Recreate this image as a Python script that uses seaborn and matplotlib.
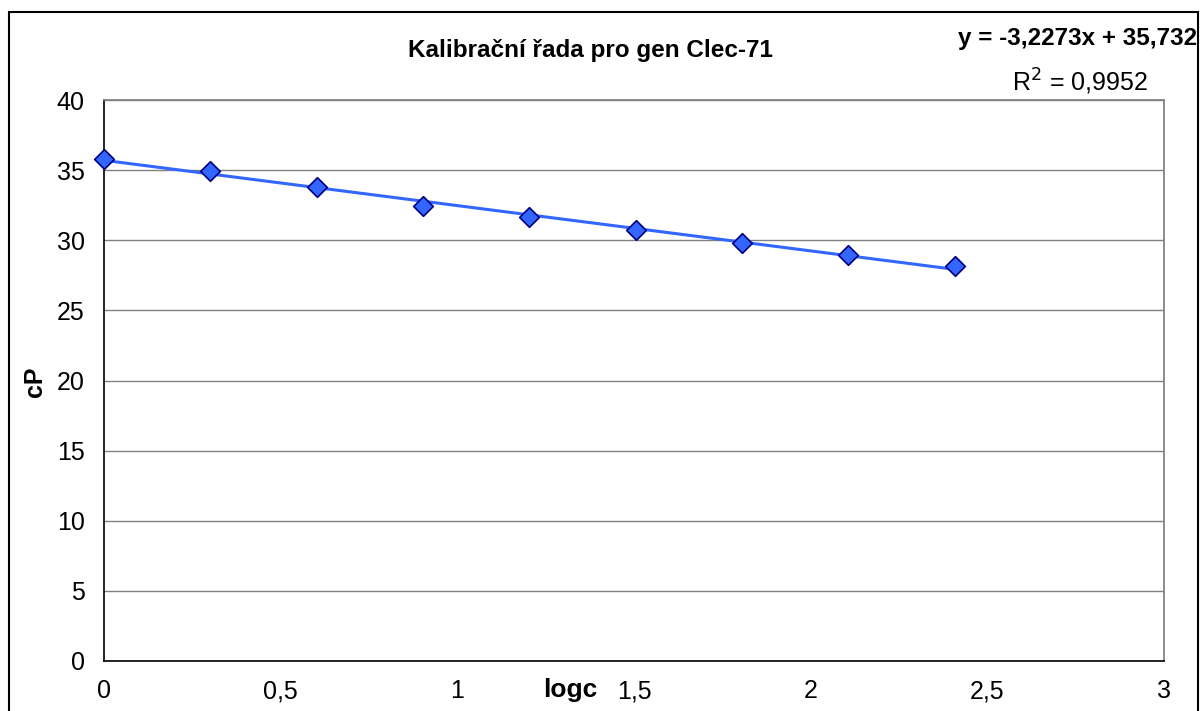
import numpy as np
import pandas as pd
import matplotlib
matplotlib.use("Agg")
import matplotlib.pyplot as plt
import seaborn as sns
from matplotlib.patches import Rectangle

# DATA

logc = [0.0, 0.301, 0.602, 0.903, 1.204, 1.505, 1.806, 2.107, 2.408]
cp = [35.80, 34.95, 33.80, 32.45, 31.65, 30.75, 29.80, 28.95, 28.15]
x_ticks = [0, 0.5, 1, 1.5, 2, 2.5, 3]
x_tick_labels = ["0", "0,5", "1", "1,5", "2", "2,5", "3"]
y_ticks = [0, 5, 10, 15, 20, 25, 30, 35, 40]

df = pd.DataFrame({"logc": logc, "cP": cp})

sns.set_theme(style="white")
plt.rcParams["font.family"] = ["Liberation Sans", "DejaVu Sans"]
plt.rcParams["text.color"] = "black"

fig = plt.figure(figsize=(12.02, 7.11), dpi=100)
ax = fig.add_axes([104 / 1202, 1 - 661 / 711, 1060 / 1202, 561 / 711])

# trendline
sns.regplot(data=df, x="logc", y="cP", ax=ax, scatter=False, ci=None,
            truncate=True, line_kws={"color": "#3366ff", "lw": 2.2, "zorder": 3})

# points
sns.scatterplot(data=df, x="logc", y="cP", ax=ax, marker="D", s=100,
                color="#3366ff", edgecolor="#000080", linewidth=1.2, zorder=4,
                clip_on=False)

ax.set_xlim(0, 3)
ax.set_ylim(0, 40)
ax.set_xticks(x_ticks)
ax.set_xticklabels(x_tick_labels)
ax.set_yticks(y_ticks)
ax.tick_params(axis="both", labelsize=18, colors="black", labelcolor="black",
               direction="out", length=6, width=1, pad=8)
ax.tick_params(axis="x", pad=7)

ax.yaxis.grid(True, color="#808080", lw=1)
ax.xaxis.grid(False)
ax.set_axisbelow(True)

for side in ["top", "right"]:
    ax.spines[side].set_color("#808080")
for side in ["left", "bottom"]:
    ax.spines[side].set_color("black")
    ax.spines[side].set_linewidth(1.2)

ax.set_xlabel("")
ax.set_ylabel("")

# labels placed like in the original Excel chart
fig.text(35 / 1202, 1 - 382 / 711, "cP", fontsize=18, fontweight="bold",
         ha="center", va="center", rotation=90, color="black")
fig.text(570 / 1202, 1 - 690 / 711, "logc", fontsize=19, fontweight="bold",
         ha="center", va="center", color="black")
fig.text(590 / 1202, 1 - 51 / 711, "Kalibrační řada pro gen Clec-71",
         fontsize=17.5, fontweight="bold", ha="center", va="center", color="black")
fig.text(1197 / 1202, 1 - 38 / 711, "y = -3,2273x + 35,732", fontsize=17.5,
         fontweight="bold", ha="right", va="center", color="black")
fig.text(1080 / 1202, 1 - 82 / 711, "R$^2$ = 0,9952", fontsize=18,
         ha="center", va="center", color="black")

# outer chart border (bottom edge falls outside the picture)
fig.patches.append(Rectangle((9 / 1202, -5 / 711), 1189 / 1202, 704 / 711,
                             transform=fig.transFigure, fill=False,
                             edgecolor="black", lw=1.5))

fig.savefig("out.png", dpi=100)
